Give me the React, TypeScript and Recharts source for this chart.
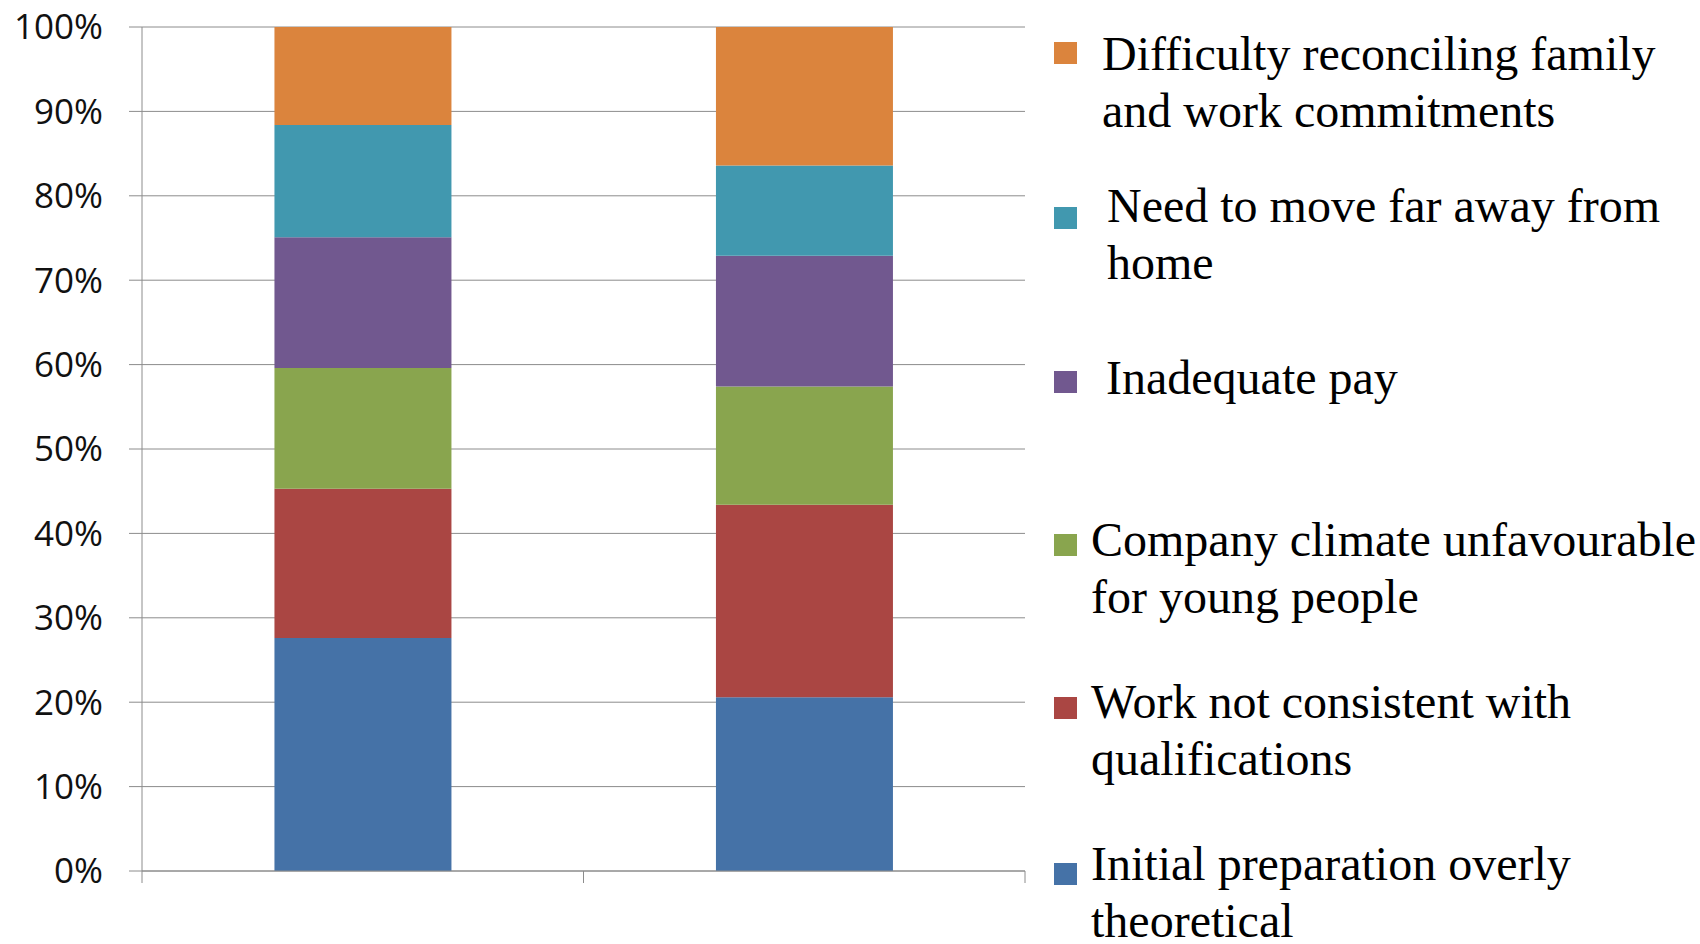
import React from "react";
import { BarChart, Bar, XAxis, YAxis, CartesianGrid, Legend } from "recharts";

const categories = ["Group A", "Group B"];
const initialPreparation = [27.6, 20.6];
const workNotConsistent = [17.7, 22.8];
const companyClimate = [14.3, 14.0];
const inadequatePay = [15.5, 15.5];
const moveFarAway = [13.3, 10.7];
const familyWork = [11.6, 16.4];
const yTicks = [0, 10, 20, 30, 40, 50, 60, 70, 80, 90, 100];

const series = [
  { key: "initial", name: "Initial preparation overly\ntheoretical", values: initialPreparation, color: "#4572A7" },
  { key: "work", name: "Work not consistent with\nqualifications", values: workNotConsistent, color: "#AA4643" },
  { key: "climate", name: "Company climate unfavourable\nfor young people", values: companyClimate, color: "#89A54E" },
  { key: "pay", name: "Inadequate pay", values: inadequatePay, color: "#71588F" },
  { key: "move", name: "Need to move far away from\nhome", values: moveFarAway, color: "#4198AF" },
  { key: "family", name: "Difficulty reconciling family\nand work commitments", values: familyWork, color: "#DB843D" },
];

const data = categories.map((c, i) => {
  const row: Record<string, any> = { category: c, pos: i + 0.5 };
  series.forEach((s) => (row[s.key] = s.values[i]));
  return row;
});

// legend item placement: first-line baseline, text left, marker top
const legendPlacement: Record<string, { baseline: number; textLeft: number; markerTop: number }> = {
  family: { baseline: 70, textLeft: 1102, markerTop: 42 },
  move: { baseline: 222, textLeft: 1107, markerTop: 207 },
  pay: { baseline: 394, textLeft: 1106, markerTop: 371 },
  climate: { baseline: 556, textLeft: 1091, markerTop: 534 },
  work: { baseline: 718, textLeft: 1091, markerTop: 697 },
  initial: { baseline: 880, textLeft: 1091, markerTop: 863 },
};

const LINE_GAP = 57;
const LINE_BOX = 44;
const BASE_IN_BOX = 38;

const renderLegend = (props: any) => {
  const payload = (props.payload || []) as any[];
  return (
    <div style={{ position: "relative", width: 1700, height: 944 }}>
      {payload.map((p: any) => {
        const key = p.dataKey as string;
        const pl = legendPlacement[key];
        if (!pl) return null;
        const lines = String(p.value).split("\n");
        return (
          <React.Fragment key={key}>
            <div
              style={{
                position: "absolute",
                left: 1054,
                top: pl.markerTop,
                width: 23,
                height: 22,
                background: p.color,
              }}
            />
            {lines.map((ln, li) => (
              <div
                key={li}
                style={{
                  position: "absolute",
                  left: pl.textLeft,
                  top: pl.baseline - BASE_IN_BOX + li * LINE_GAP,
                  height: LINE_BOX,
                  fontFamily: "'Liberation Serif', 'Times New Roman', serif",
                  fontSize: 48,
                  lineHeight: `${LINE_BOX}px`,
                  color: "#000",
                  whiteSpace: "pre",
                  textAlign: "left",
                }}
              >
                {ln}
              </div>
            ))}
          </React.Fragment>
        );
      })}
    </div>
  );
};

export default function App() {
  return (
    <div style={{ position: "absolute", left: 0, top: 0, width: 1700, height: 944, background: "#fff" }}>
      <BarChart
        width={1700}
        height={944}
        data={data}
        margin={{ top: 27, right: 675, bottom: 43, left: 0 }}
        barCategoryGap="30%"
      >
        <CartesianGrid vertical={false} stroke="#8c8c8c" xAxisId="num" yAxisId="y" />
        <XAxis xAxisId="cat" dataKey="category" type="category" orientation="top" height={0} hide />
        <XAxis
          xAxisId="num"
          dataKey="pos"
          type="number"
          domain={[0, 2]}
          ticks={[0, 1, 2]}
          tickFormatter={() => ""}
          tickSize={12}
          height={30}
          stroke="#8c8c8c"
          axisLine={{ stroke: "#8c8c8c" }}
          tickLine={{ stroke: "#8c8c8c" }}
          allowDataOverflow
        />
        <YAxis
          yAxisId="y"
          type="number"
          domain={[0, 100]}
          ticks={yTicks}
          tickFormatter={(v: number) => `${v}%`}
          width={142}
          tickSize={13}
          tickMargin={26}
          axisLine={{ stroke: "#8c8c8c" }}
          tickLine={{ stroke: "#8c8c8c" }}
          tick={{ fill: "#111", fontSize: 35, fontFamily: "'Open Sans', sans-serif" }}
          interval={0}
        />
        {series.map((s) => (
          <Bar
            key={s.key}
            dataKey={s.key}
            name={s.name}
            stackId="a"
            fill={s.color}
            xAxisId="cat"
            yAxisId="y"
            isAnimationActive={false}
          />
        ))}
        <Legend
          layout="horizontal"
          verticalAlign="middle"
          align="center"
          content={renderLegend}
          wrapperStyle={{ left: 0, top: 0, width: 1700, height: 944, pointerEvents: "none" }}
        />
      </BarChart>
    </div>
  );
}
